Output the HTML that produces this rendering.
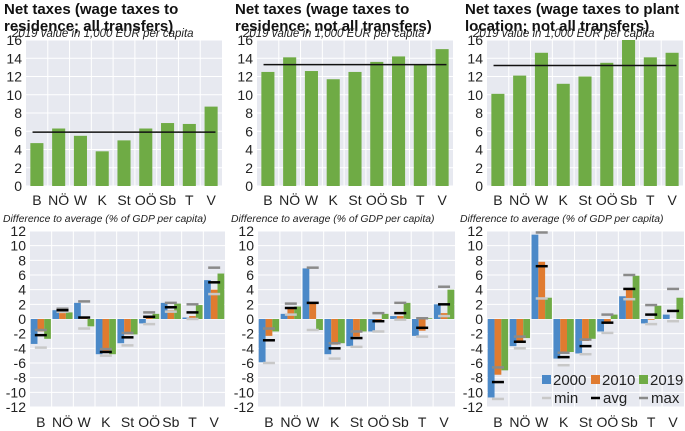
<!DOCTYPE html>
<html><head><meta charset="utf-8">
<style>
body{margin:0;background:#fff;width:685px;height:431px;overflow:hidden;font-family:"Liberation Sans",sans-serif}
svg{display:block}
</style></head><body>
<svg id="chart" width="685" height="431" xmlns="http://www.w3.org/2000/svg" font-family="Liberation Sans, sans-serif"></svg>
<script>
const categories = ["B","NÖ","W","K","St","OÖ","Sb","T","V"];
const top1Values = [4.7,6.3,5.5,3.8,5.0,6.3,6.9,6.8,8.7];
const top1Avg = 5.9;
const top2Values = [12.5,14.1,12.6,11.7,12.5,13.6,14.2,13.3,15.0];
const top2Avg = 13.3;
const top3Values = [10.1,12.1,14.6,11.2,12.0,13.5,16.0,14.1,14.6];
const top3Avg = 13.2;
const topTicks = [0,2,4,6,8,10,12,14,16];
const bottomTicks = [-12,-10,-8,-6,-4,-2,0,2,4,6,8,10,12];

const b1y2000 = [-3.4,1.2,2.2,-4.8,-3.3,-0.6,2.2,0.2,5.3];
const b1y2010 = [-1.7,0.8,0.2,-4.4,-2.1,0.2,1.2,0.4,4.0];
const b1y2019 = [-2.7,0.9,-1.0,-4.8,-2.1,0.7,2.1,1.9,6.2];
const b1min = [-3.9,1.0,-1.3,-5.0,-3.6,-0.7,1.0,0.0,3.4];
const b1avg = [-2.2,1.2,0.2,-4.5,-2.5,0.3,1.6,0.9,5.0];
const b1max = [-1.5,1.4,2.4,-4.1,-1.9,0.9,2.2,2.0,7.0];

const b2y2000 = [-5.9,0.7,6.9,-4.8,-3.7,-1.7,0.4,-2.3,2.0];
const b2y2010 = [-2.3,1.4,2.2,-3.5,-2.4,-0.2,0.4,-1.6,0.8];
const b2y2019 = [-1.7,1.7,-1.5,-3.3,-1.7,0.7,2.2,0.1,4.0];
const b2min = [-6.0,0.6,-1.5,-5.4,-3.8,-1.7,-0.1,-2.4,0.4];
const b2avg = [-2.9,1.5,2.2,-4.0,-2.6,-0.3,0.8,-1.2,2.0];
const b2max = [-1.3,2.1,7.0,-3.3,-1.7,0.8,2.2,0.1,4.4];

const b3y2000 = [-10.7,-3.7,11.5,-5.4,-4.7,-1.7,3.1,-0.6,0.6];
const b3y2010 = [-7.6,-3.0,7.8,-4.6,-3.0,-0.4,4.1,-0.1,0.0];
const b3y2019 = [-7.0,-2.6,2.9,-4.5,-2.7,0.6,5.9,1.8,2.9];
const b3min = [-10.9,-4.0,2.8,-6.3,-4.8,-1.9,2.7,-0.7,-0.3];
const b3avg = [-8.6,-3.1,7.2,-5.2,-3.7,-0.5,4.1,0.6,1.1];
const b3max = [-6.6,-2.4,11.8,-4.6,-2.8,0.6,6.0,1.9,4.1];

const C2000="#4b89c8", C2010="#e07b30", C2019="#6fab45", BG="#e7e9f0";
const svg=document.getElementById('chart');
const NS="http://www.w3.org/2000/svg";
function mk(tag,attrs,parent){const e=document.createElementNS(NS,tag);for(const k in attrs)e.setAttribute(k,attrs[k]);(parent||svg).appendChild(e);return e;}
function txt(s,attrs,parent){const e=mk('text',attrs,parent);e.textContent=s;return e;}

function panelFrame(g,L,R,T,B,ticks,yScale,name){
  const bg=mk('rect',{x:L,y:T,width:R-L,height:B-T,fill:BG},g);
  
  
  const cw=(R-L)/categories.length;
  ticks.forEach(t=>{
    const y=yScale(t);
    mk('line',{x1:L,x2:R,y1:y,y2:y,stroke:'#fff','stroke-width':1},g);
    const lab=txt(String(t),{x:L-4,y:y+5,'text-anchor':'end','font-size':14,fill:'#222'},g);
    
    
  });
  for(let i=1;i<categories.length;i++){
    mk('line',{x1:L+i*cw,x2:L+i*cw,y1:T,y2:B,stroke:'#fff','stroke-width':1},g);
  }
  return cw;
}

function topPanel(L,R,title1,title2,values,avg,name){
  const g=mk('g',{});
  
  
  const T=40,B=186;
  const y=v=>B-(v/16)*(B-T);
  const t1=txt(title1,{x:L-22,y:14,'font-size':15,'font-weight':'bold',fill:'#111'},g);
  
  
  txt(title2,{x:L-22,y:31,'font-size':15,'font-weight':'bold',fill:'#111'},g);
  const cw=panelFrame(g,L,R,T,B,topTicks,y,name);
  const sub=txt('2019 value in 1,000 EUR per capita',{x:L-14,y:37,'font-size':11.5,'font-style':'italic',fill:'#222'},g);
  
  
  values.forEach((v,i)=>{
    const bw=cw*0.6,x=L+i*cw+(cw-bw)/2;
    const r=mk('rect',{x:x,y:y(v),width:bw,height:B-y(v),fill:C2019},g);
    
    
    const lab=txt(categories[i],{x:L+(i+0.5)*cw,y:205,'text-anchor':'middle','font-size':14,fill:'#222'},g);
    
    
  });
  const al=mk('line',{x1:L+cw*0.3,x2:L+cw*8.7,y1:y(avg),y2:y(avg),stroke:'#111','stroke-width':1.5},g);
  
  
}

function bottomPanel(L,R,s0,s1,s2,mn,av,mx,name){
  const g=mk('g',{});
  
  
  const T=231,B=407;
  const y=v=>T+(12-v)/24*(B-T);
  const st=txt('Difference to average (% of GDP per capita)',{x:L-27,y:222,'font-size':10.4,'font-style':'italic',fill:'#222'},g);
  
  
  const cw=panelFrame(g,L,R,T,B,bottomTicks,y,name);
  const series=[[s0,C2000,'2000'],[s1,C2010,'2010'],[s2,C2019,'2019']];
  categories.forEach((c,i)=>{
    const bw=cw*0.31, x0=L+i*cw+(cw-3*bw)/2;
    series.forEach((s,k)=>{
      const v=s[0][i];
      const r=mk('rect',{x:x0+k*bw,y:Math.min(y(v),y(0)),width:bw,height:Math.abs(y(v)-y(0)),fill:s[1]},g);
      
      
    });
    const cx=L+(i+0.5)*cw;
    [[mn,'#c8c8c8','min'],[mx,'#8a8a8a','max'],[av,'#000','avg']].forEach(m=>{
      const l=mk('line',{x1:cx-6,x2:cx+6,y1:y(m[0][i]),y2:y(m[0][i]),stroke:m[1],'stroke-width':2.5},g);
      
      
    });
    const lab=txt(c,{x:cx,y:427,'text-anchor':'middle','font-size':14,fill:'#222'},g);
    
    
  });
}

topPanel(26,222,'Net taxes (wage taxes to','residence; all transfers)',top1Values,top1Avg,'top-panel-1');
topPanel(257,453,'Net taxes (wage taxes to','residence; not all transfers)',top2Values,top2Avg,'top-panel-2');
topPanel(487,683,'Net taxes (wage taxes to plant','location; not all transfers)',top3Values,top3Avg,'top-panel-3');
bottomPanel(30,225,b1y2000,b1y2010,b1y2019,b1min,b1avg,b1max,'bottom-panel-1');
bottomPanel(258,455,b2y2000,b2y2010,b2y2019,b2min,b2avg,b2max,'bottom-panel-2');
bottomPanel(487,684,b3y2000,b3y2010,b3y2019,b3min,b3avg,b3max,'bottom-panel-3');

// legend
const lg=mk('g',{});


[[C2000,'2000',542],[C2010,'2010',591],[C2019,'2019',639]].forEach(e=>{
  const r=mk('rect',{x:e[2],y:375,width:9,height:9,fill:e[0]},lg);
  
  
  const t=txt(e[1],{x:e[2]+11,y:385,'font-size':15,fill:'#222'},lg);
  
  
});
[['#c8c8c8','min',542],['#000','avg',591],['#8a8a8a','max',639]].forEach(e=>{
  const l=mk('line',{x1:e[2],x2:e[2]+9,y1:398,y2:398,stroke:e[0],'stroke-width':2.5},lg);
  
  
  const t=txt(e[1],{x:e[2]+12,y:403,'font-size':15,fill:'#222'},lg);
  
  
});
</script>
</body></html>
